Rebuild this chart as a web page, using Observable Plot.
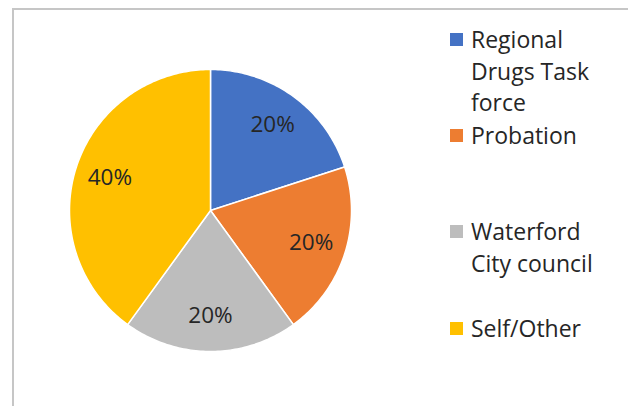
<!DOCTYPE html>
<html>
<head>
<meta charset="utf-8">
<script src="https://cdn.jsdelivr.net/npm/d3@7"></script>
<script src="https://cdn.jsdelivr.net/npm/@observablehq/plot@0.6"></script>
<style>
  body { margin: 0; background: #fff; font-family: "Open Sans", sans-serif; }
  #wrap { position: relative; width: 628px; height: 406px; overflow: hidden; }
  #border { position: absolute; left: 12px; top: 8px; right: -4px; bottom: -4px;
            border-left: 2px solid #c6c6c6; border-top: 2px solid #c6c6c6; }
  #chart { position: absolute; left: 0; top: 0; }
  #legend { position: absolute; left: 450px; top: 0; width: 178px; height: 406px; }
  .entry { position: absolute; left: 0; font-size: 23px; line-height: 31.5px; color: #262626; }
  .sw { position: absolute; left: 0; top: 9px; width: 13px; height: 13px; }
  .lbl { position: absolute; left: 21px; top: 0; white-space: pre; }
</style>
</head>
<body>
<div id="wrap">
  <div id="border"></div>
  <div id="chart"></div>
  <div id="legend"></div>
</div>
<script>
const categories = ["Regional Drugs Task force", "Probation", "Waterford City council", "Self/Other"];
const legendLabels = ["Regional\nDrugs Task\nforce", "Probation", "Waterford\nCity council", "Self/Other"];
const values = [20, 20, 20, 40];
const colors = ["#4472c4", "#ed7d31", "#bdbdbd", "#ffc000"];

// Pie geometry from data (angles clockwise from top)
const pie = d3.pie().sort(null).value(d => d.value)(categories.map((c, i) => ({category: c, value: values[i]})));
const total = d3.sum(values);
const slicePts = [];
const labelPts = [];
pie.forEach(p => {
  const c = p.data.category;
  slicePts.push({category: c, x: 0, y: 0});
  const n = Math.max(2, Math.ceil((p.endAngle - p.startAngle) / (Math.PI / 180)));
  for (let k = 0; k <= n; k++) {
    const a = p.startAngle + (p.endAngle - p.startAngle) * k / n;
    slicePts.push({category: c, x: Math.sin(a), y: Math.cos(a)});
  }
  const m = (p.startAngle + p.endAngle) / 2;
  const lr = 0.75;
  labelPts.push({category: c, x: lr * Math.sin(m), y: lr * Math.cos(m), text: Math.round(p.data.value / total * 100) + "%"});
});

const cx = 210, cy = 210, r = 141;
const chart = Plot.plot({
  width: 440,
  height: 406,
  margin: 0,
  x: {domain: [-1, 1], range: [cx - r, cx + r], axis: null},
  y: {domain: [-1, 1], range: [cy + r, cy - r], axis: null},
  color: {domain: categories, range: colors},
  style: {fontFamily: "'Open Sans', sans-serif", background: "transparent"},
  marks: [
    Plot.line(slicePts, {x: "x", y: "y", z: "category", fill: "category", stroke: "white", strokeWidth: 1.5, curve: "linear-closed"}),
    Plot.text(labelPts, {x: "x", y: "y", text: "text", fontSize: 22.5, fill: "#262626"})
  ]
});
document.getElementById("chart").appendChild(chart);

// Legend (HTML)
const legend = d3.select("#legend");
categories.forEach((c, i) => {
  const e = legend.append("div").attr("class", "entry").style("top", (24 + i * 96.2) + "px");
  e.append("div").attr("class", "sw").style("background", colors[i]);
  e.append("div").attr("class", "lbl").text(legendLabels[i]);
});
</script>
</body>
</html>
